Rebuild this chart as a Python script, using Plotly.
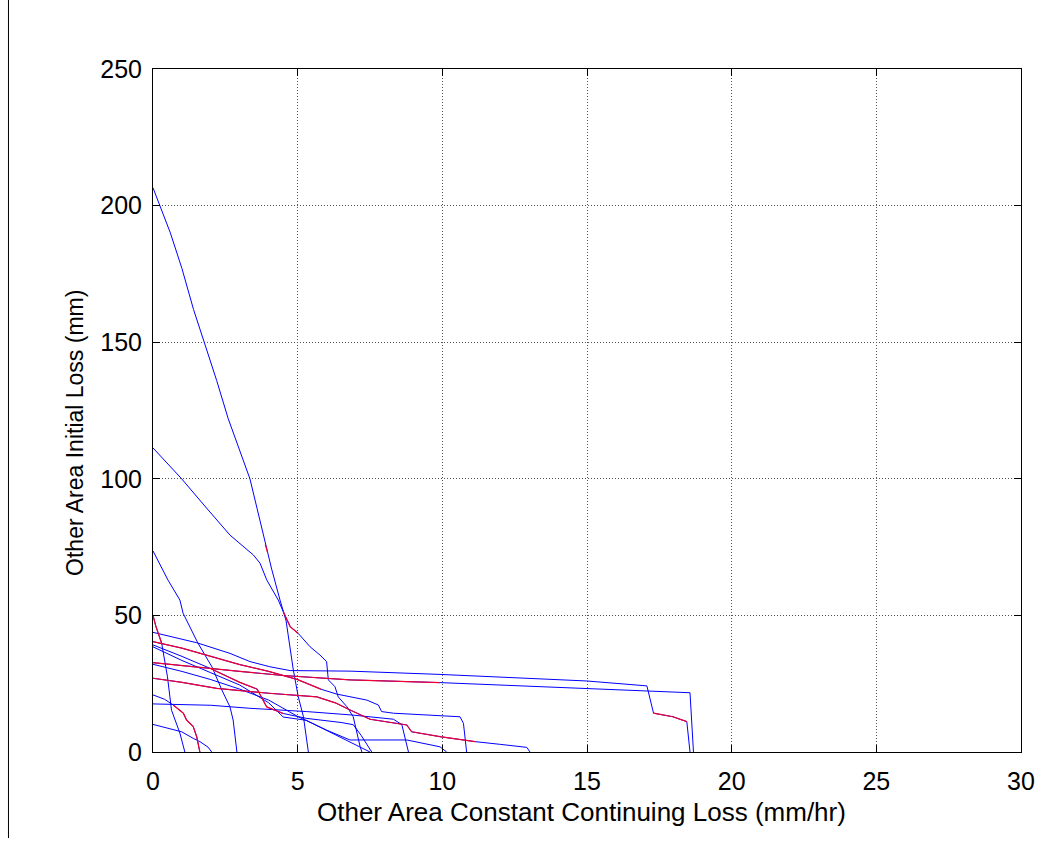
import plotly.graph_objects as go

# ---- data ----
x_ticks = [0, 5, 10, 15, 20, 25, 30]
y_ticks = [0, 50, 100, 150, 200, 250]

a_x = [0, 0.24, 0.6, 1.0, 1.4, 1.77, 2.2, 2.6, 3.0, 3.35, 3.6, 3.8, 3.88, 3.96, 4.1, 4.39, 4.6, 4.85, 5.02, 5.2, 5.37]
a_y = [206.5, 200, 190, 177, 162, 150, 136, 122, 110, 100, 89, 80, 76, 73, 67, 55.6, 48, 30, 20.2, 12.9, 0]
a_red = [12, 13]

b_x = [0, 0.99, 1.85, 2.66, 3.47, 3.7, 3.93, 4.33, 4.5, 4.74, 5.02, 5.43, 5.77, 6.0, 6.06, 6.29, 6.4, 6.7, 6.92, 7.04, 7.16, 7.22]
b_y = [111.3, 100, 89.3, 79.4, 72.1, 69.1, 63, 55.6, 51.4, 45.9, 43.4, 38.5, 35.5, 33.1, 26.4, 23.9, 20.2, 16.6, 12.9, 6.8, 1.9, 0]
b_red = [8, 10]

c_x = [0, 0.52, 0.93, 1.04, 1.55, 2.04, 2.38, 2.66, 2.77, 2.90]
c_y = [73.6, 62.9, 55.6, 50.8, 39.9, 31.1, 22.7, 16.5, 11.7, 0]
c_red = []

h_x = [0, 0.1, 0.3, 0.45, 0.5, 0.64, 0.93, 1.1]
h_y = [50, 46, 39.8, 30, 27.5, 15.3, 6.9, 0]
h_red = [0, 2]

s21_x = [0, 0.4, 0.7, 1.05, 1.16, 1.39, 1.51, 1.62]
s21_y = [20.9, 19.3, 17.2, 14.2, 11.7, 9.3, 5.6, 0]
s21_red = [2, 7]

s10_x = [0, 0.5, 0.99, 1.39, 1.62, 1.9, 2.03]
s10_y = [10.1, 8.8, 7.4, 5.0, 3.8, 1.8, 0]
s10_red = []

d_x = [0, 0.5, 1.51, 2.66, 3.35, 4.04, 4.74, 6.81, 9.92, 14.99, 17.07, 17.3, 17.97, 18.45, 18.56]
d_y = [43.8, 42.5, 40.0, 36.1, 33.1, 31.2, 29.8, 29.6, 28.4, 26.0, 24.2, 14.2, 12.9, 11.1, 0]
d_red = [11, 13]

e_x = [0, 1.5, 3.0, 4.5, 6.81, 9.92, 14.99, 18.56, 18.68]
e_y = [32.7, 31.0, 29.5, 28.0, 26.4, 25.4, 23.3, 21.7, 0]
e_red = [0, 5]

l40_x = [0, 1, 2, 3, 4, 5, 5.8, 6.35, 7.39, 7.79, 7.9, 8.31, 10.61, 10.73, 10.84]
l40_y = [40.4, 38, 35, 32, 29.5, 26.5, 23, 21.2, 19, 17.2, 14.8, 14.2, 12.9, 10.5, 0]
l40_red = [0, 6]

l39_x = [0, 1, 2, 3, 3.6, 3.93, 4.5, 5.31, 6.5, 6.92, 7.2, 7.45, 7.56]
l39_y = [39.2, 35, 30.5, 25.5, 23, 16.5, 14.1, 12.3, 10.8, 10, 6, 2, 0]
l39_red = [2, 6]

l38_x = [0, 1, 2, 3, 4, 4.5, 5.3, 6.0, 6.9, 7.5]
l38_y = [38.5, 33.5, 29, 24.5, 18, 12.8, 11.6, 8, 3.2, 0]
l38_red = []

l32_x = [0, 1, 2, 3, 4, 5, 6, 6.81, 8.77, 9.92, 10.15]
l32_y = [32.1, 29.5, 26.5, 23, 19, 13, 8, 4.4, 4.4, 1.9, 0]
l32_red = []

l27_x = [0, 1, 2.2, 4, 5.66, 6.3, 6.81, 7.5, 8.77, 8.94, 9.92, 11.13, 12.0, 12.92, 13.03]
l27_y = [27.0, 25.5, 23.3, 21.5, 20.2, 18, 15.4, 12, 9.9, 7.4, 5.6, 3.8, 2.8, 1.7, 0]
l27_red = [0, 11]

f_x = [0, 2, 3.35, 5.31, 6.92, 8.31, 8.6, 8.72, 8.83]
f_y = [17.6, 17.1, 16.0, 14.8, 13.5, 12.0, 10.0, 5.0, 0]
f_red = []

curves = [
    (a_x, a_y, a_red), (b_x, b_y, b_red), (c_x, c_y, c_red), (h_x, h_y, h_red),
    (s21_x, s21_y, s21_red), (s10_x, s10_y, s10_red), (d_x, d_y, d_red),
    (e_x, e_y, e_red), (l40_x, l40_y, l40_red), (l39_x, l39_y, l39_red),
    (l38_x, l38_y, l38_red), (l32_x, l32_y, l32_red), (l27_x, l27_y, l27_red),
    (f_x, f_y, f_red),
]

BLUE = "#0000FF"
RED = "#F00030"

fig = go.Figure()
for xs, ys, red in curves:
    fig.add_trace(go.Scatter(x=xs, y=ys, mode="lines",
                             line=dict(color=BLUE, width=1),
                             hoverinfo="skip", showlegend=False))
for xs, ys, red in curves:
    if red:
        i0, i1 = red
        fig.add_trace(go.Scatter(x=xs[i0:i1 + 1], y=ys[i0:i1 + 1], mode="lines",
                                 line=dict(color=RED, width=1.2),
                                 hoverinfo="skip", showlegend=False))

font_family = "Arial, Liberation Sans, sans-serif"
axis_common = dict(
    showgrid=True, gridcolor="#555555", griddash="1px,2px", gridwidth=1,
    showline=True, linecolor="black", linewidth=1, mirror="ticks",
    ticks="inside", ticklen=7, tickcolor="black", tickwidth=1,
    zeroline=False, automargin=False,
    tickfont=dict(family=font_family, size=25, color="black"),
)

fig.update_layout(
    width=1039, height=841,
    margin=dict(l=153, r=18, t=69, b=89),
    paper_bgcolor="white", plot_bgcolor="white",
    font=dict(family=font_family, color="black"),
    xaxis=dict(range=[0, 30], tickvals=x_ticks, ticklabelstandoff=7, **axis_common),
    yaxis=dict(range=[0, 250], tickvals=y_ticks, ticklabelstandoff=5, **axis_common),
    annotations=[
        dict(text="Other Area Constant Continuing Loss (mm/hr)", xref="paper", yref="paper",
             x=0.494, y=-0.088, xanchor="center", yanchor="middle", showarrow=False,
             font=dict(family=font_family, size=26, color="black")),
        dict(text="Other Area Initial Loss (mm)", xref="paper", yref="paper",
             x=-0.090, y=0.467, xanchor="center", yanchor="middle", showarrow=False,
             textangle=-90, font=dict(family=font_family, size=23, color="black")),
    ],
    shapes=[dict(type="line", xref="paper", yref="paper",
                 x0=-0.1665, x1=-0.1665, y0=1.2, y1=-0.126,
                 line=dict(color="black", width=1))],
)

fig.write_html("out.html", config={"displayModeBar": False},
               post_script="document.body.style.margin='0';document.body.style.overflow='hidden';")
